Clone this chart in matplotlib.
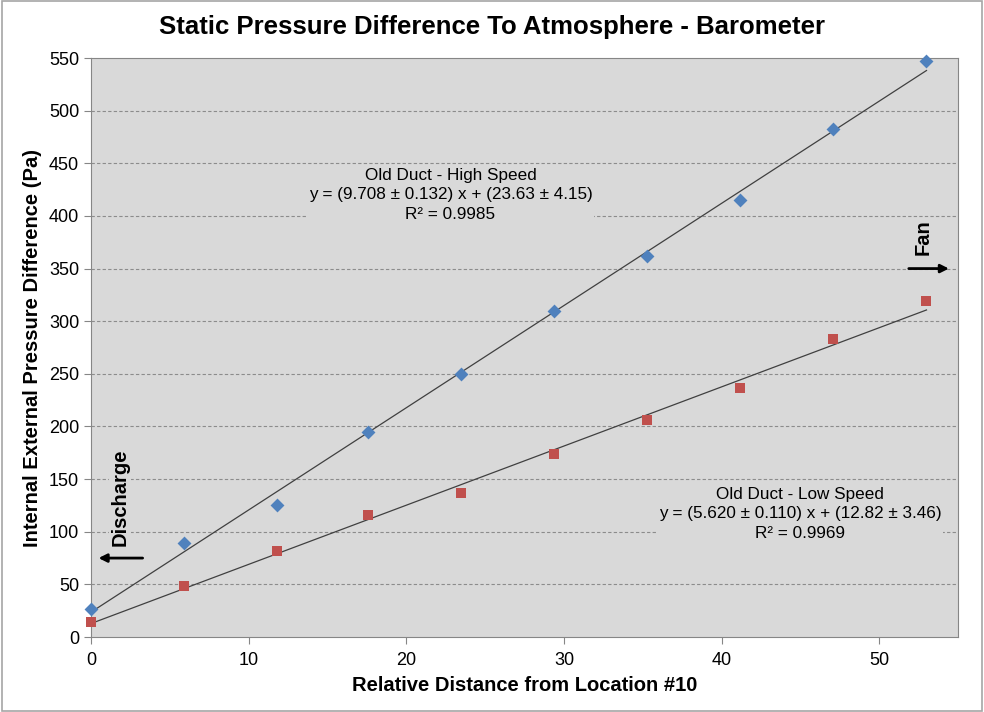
import numpy as np
import matplotlib
matplotlib.use("Agg")
import matplotlib.pyplot as plt
from matplotlib.patches import Rectangle

plt.rcParams['font.family'] = ['Liberation Sans', 'DejaVu Sans']

# data
dist = [0, 5.9, 11.8, 17.6, 23.5, 29.4, 35.3, 41.2, 47.1, 53.0]
high_speed = [27, 89, 125, 195, 250, 310, 362, 415, 483, 547]
low_speed = [14, 48, 82, 116, 137, 174, 206, 237, 283, 319]

# trendline coefficients (slope, intercept)
fit_high = (9.708, 23.63)
fit_low = (5.620, 12.82)

yticks = list(range(0, 551, 50))
xticks = [0, 10, 20, 30, 40, 50]

fig = plt.figure(figsize=(9.84, 7.12), dpi=100)
fig.patches.append(Rectangle((0.002, 0.002), 0.996, 0.996, transform=fig.transFigure,
                             fill=False, edgecolor='#a6a6a6', lw=1.2))
ax = fig.add_axes([0.0925, 0.1053, 0.8811, 0.8132])
ax.set_facecolor('#d9d9d9')

ax.set_xlim(0, 55)
ax.set_ylim(0, 550)
ax.set_yticks(yticks)
ax.set_xticks(xticks)
for y in yticks[1:-1]:
    ax.axhline(y, color='#8c8c8c', lw=0.8, ls=(0, (3, 2)), zorder=1)

xs = np.array([dist[0], dist[-1]])
ax.plot(xs, fit_high[0] * xs + fit_high[1], color='#404040', lw=0.9, zorder=3)
ax.plot(xs, fit_low[0] * xs + fit_low[1], color='#404040', lw=0.9, zorder=3)

ax.scatter(dist, high_speed, marker='D', s=50, color='#4f81bd', zorder=4,
           linewidths=0, clip_on=False)
ax.scatter(dist, low_speed, marker='s', s=45, color='#c0504d', zorder=4,
           linewidths=0, clip_on=False)

for s in ax.spines.values():
    s.set_color('#868686')
ax.tick_params(axis='both', colors='#868686', labelcolor='black', labelsize=13,
               length=5, direction='out')
ax.tick_params(axis='x', pad=6)

bbox = dict(facecolor='#d9d9d9', edgecolor='none', pad=1)
ax.text(22.8, 420, "Old Duct - High Speed\ny = (9.708 \u00b1 0.132) x + (23.63 \u00b1 4.15)\nR\u00b2 = 0.9985",
        ha='center', va='center', fontsize=12.3, linespacing=1.35, bbox=bbox, zorder=2)
ax.text(45.0, 117, "Old Duct - Low Speed\ny = (5.620 \u00b1 0.110) x + (12.82 \u00b1 3.46)\nR\u00b2 = 0.9969",
        ha='center', va='center', fontsize=12.3, linespacing=1.35, bbox=bbox, zorder=2)

# flow direction labels
ax.text(52.8, 380, "Fan", rotation=90, ha='center', va='center', fontsize=14.5,
        fontweight='bold', bbox=bbox, zorder=2)
ax.annotate("", xy=(54.6, 350), xytext=(51.7, 350),
            arrowprops=dict(arrowstyle='-|>', color='black', lw=2, mutation_scale=12), zorder=5)
ax.text(1.85, 133, "Discharge", rotation=90, ha='center', va='center', fontsize=14.5,
        fontweight='bold', bbox=bbox, zorder=2)
ax.annotate("", xy=(0.3, 75), xytext=(3.45, 75),
            arrowprops=dict(arrowstyle='-|>', color='black', lw=2, mutation_scale=12), zorder=5)

fig.text(0.50, 0.962, "Static Pressure Difference To Atmosphere - Barometer",
         ha='center', va='center', fontsize=18.5, fontweight='bold')
ax.set_xlabel("Relative Distance from Location #10", fontsize=14.5, fontweight='bold')
ax.set_ylabel("Internal External Pressure Difference (Pa)", fontsize=14.5, fontweight='bold')
ax.xaxis.set_label_coords(0.5, -0.068)
ax.yaxis.set_label_coords(-0.057, 0.5)

fig.savefig("out.png", dpi=100)
